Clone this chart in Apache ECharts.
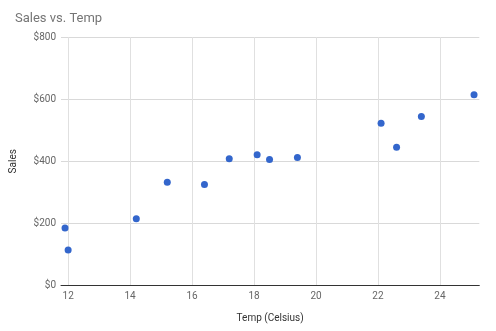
<!DOCTYPE html>
<html>
<head>
<meta charset="utf-8">
<script src="https://cdn.jsdelivr.net/npm/echarts@6/dist/echarts.min.js"></script>
<style>html,body{margin:0;padding:0;background:#fff}#c{width:496px;height:331px}</style>
</head>
<body>
<div id="c"></div>
<script>
const temps = [14.2, 16.4, 11.9, 12.0, 15.2, 18.5, 22.1, 19.4, 25.1, 23.4, 18.1, 22.6, 17.2];
const sales = [215, 325, 185, 114, 332, 406, 522, 412, 614, 544, 421, 445, 408];
const xTicks = [12, 14, 16, 18, 20, 22, 24];
const yTicks = [0, 200, 400, 600, 800];

const chart = echarts.init(document.getElementById('c'));
const font = 'Roboto, Arial, sans-serif';
chart.setOption({
  animation: false,
  title: {
    text: 'Sales vs. Temp', left: 10, top: 7,
    textStyle: {fontFamily: font, fontSize: 13, fontWeight: 'normal', color: '#757575'}
  },
  grid: {left: 59.5, right: 16.7, top: 37, bottom: 45.5, containLabel: false},
  xAxis: {
    type: 'value', min: 11.77, max: 25.27,
    name: 'Temp (Celsius)', nameLocation: 'middle', nameGap: 28,
    nameTextStyle: {fontFamily: font, fontSize: 10, color: '#333'},
    axisLine: {show: true, onZero: false, lineStyle: {color: '#333', width: 1}},
    axisTick: {show: false, customValues: xTicks},
    axisLabel: {customValues: xTicks, fontFamily: font, fontSize: 10, color: '#666', margin: 6},
    splitLine: {show: true, lineStyle: {color: '#e0e0e0', width: 1}}
  },
  yAxis: {
    type: 'value', min: yTicks[0], max: yTicks[yTicks.length - 1], interval: 200,
    name: 'Sales', nameLocation: 'middle', nameGap: 43, nameRotate: 90,
    nameTextStyle: {fontFamily: font, fontSize: 10, color: '#333'},
    axisLine: {show: false}, axisTick: {show: false},
    axisLabel: {fontFamily: font, fontSize: 10, color: '#666', margin: 5,
      formatter: v => '$' + v},
    splitLine: {show: true, lineStyle: {color: '#d9d9d9', width: 1}}
  },
  series: [{
    type: 'scatter', symbolSize: 7,
    itemStyle: {color: '#3366cc', opacity: 1},
    data: temps.map((t, i) => [t, sales[i]])
  }]
});
</script>
</body>
</html>
